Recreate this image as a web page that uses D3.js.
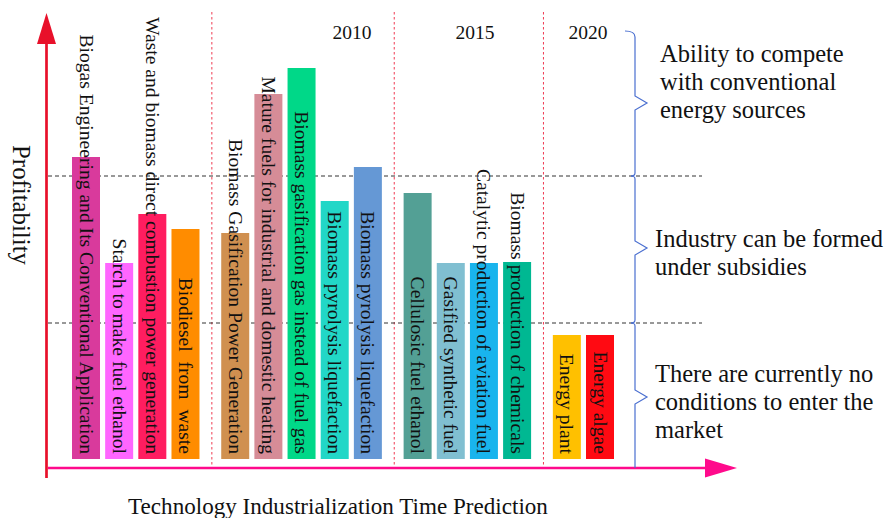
<!DOCTYPE html>
<html>
<head>
<meta charset="utf-8">
<script src="https://cdn.jsdelivr.net/npm/d3@7"></script>
<style>
  html, body { margin: 0; padding: 0; background: #ffffff; }
  svg { display: block; }
  text { font-family: "Liberation Serif", "Times New Roman", serif; fill: #111; white-space: pre; }
</style>
</head>
<body>
<div id="chart"></div>
<script>
// ---------------- data ----------------
const categories = [
  "Biogas Engineering and Its Conventional Application",
  "Starch to make fuel ethanol",
  "Waste and biomass direct combustion power generation",
  "Biodiesel  from  waste",
  "Biomass Gasification Power Generation",
  "Mature fuels for industrial and domestic heating",
  "Biomass gasification gas instead of fuel gas",
  "Biomass pyrolysis liquefaction",
  "Biomass pyrolysis liquefaction",
  "Cellulosic fuel ethanol",
  "Gasified synthetic fuel",
  "Catalytic production of aviation fuel",
  "Biomass production of chemicals",
  "Energy plant",
  "Energy algae"
];
// profitability (arbitrary units)
const profitability = [75.5, 49, 61.25, 57.5, 56.5, 91.25, 97.75, 64.5, 73, 66.5, 49, 49, 49.25, 31, 31];
// period group of each technology (0: now, 1: 2010, 2: 2015, 3: 2020)
const periodGroup = [0, 0, 0, 0, 1, 1, 1, 1, 1, 2, 2, 2, 2, 3, 3];
const yearLabels = ["2010", "2015", "2020"];
// profitability thresholds (dashed lines)
const thresholds = [34, 70.75];
const levelLabels = [
  ["Ability to compete", "with conventional", "energy sources"],
  ["Industry can be formed", "under subsidies"],
  ["There are currently no", "conditions to enter the", "market"]
];
const yTitle = "Profitability";
const xTitle = "Technology Industrialization Time Prediction";

// ---------------- styles ----------------
const barColors = ["#d93a9c", "#ff66ff", "#ff1d60", "#ff8c00", "#d09050", "#d68c97", "#00d888",
                   "#22d7c7", "#6598d5", "#53a095", "#80bfd1", "#19b4ed", "#00b892", "#ffc000", "#ff0a12"];

// ---------------- layout ----------------
const W = 887, H = 518;
const svg = d3.select("#chart").append("svg").attr("width", W).attr("height", H);
svg.append("rect").attr("width", W).attr("height", H).attr("fill", "#fff");

// slot index: bar index plus half a slot per group gap
const slot = categories.map((c, i) => i + 0.5 * periodGroup[i]);
const barW = 28;
const x = d3.scaleLinear().domain([0, 15.5]).range([72, 586]);   // left edge of bar
const y = d3.scaleLinear().domain([0, 100]).range([459, 59]);

const plotLeft = 48, plotRight = 702, axisY = 468;

// dotted red vertical dividers between groups
const dividers = [];
for (let i = 1; i < categories.length; i++) {
  if (periodGroup[i] !== periodGroup[i - 1]) {
    dividers.push(((x(slot[i - 1]) + barW) + x(slot[i])) / 2 + 1.5);
  }
}
svg.selectAll("line.divider").data(dividers).enter().append("line")
  .attr("x1", d => d).attr("x2", d => d).attr("y1", 12).attr("y2", axisY)
  .attr("stroke", "#f03a52").attr("stroke-width", 1).attr("stroke-dasharray", "2.5,2.5");

// dashed threshold lines
svg.selectAll("line.thr").data(thresholds).enter().append("line")
  .attr("x1", plotLeft).attr("x2", plotRight)
  .attr("y1", d => y(d)).attr("y2", d => y(d))
  .attr("stroke", "#333").attr("stroke-width", 1).attr("stroke-dasharray", "4,3");

// bars
svg.selectAll("rect.bar").data(categories).enter().append("rect")
  .attr("x", (d, i) => x(slot[i]))
  .attr("y", (d, i) => y(profitability[i]))
  .attr("width", barW)
  .attr("height", (d, i) => y(0) - y(profitability[i]))
  .attr("fill", (d, i) => barColors[i]);

// bar labels (vertical, reading top to bottom, ending at bar bottom)
svg.selectAll("text.blabel").data(categories).enter().append("text")
  .attr("transform", (d, i) => `translate(${x(slot[i]) + barW / 2},454) rotate(90)`)
  .attr("text-anchor", "end")
  .attr("dominant-baseline", "central")
  .attr("font-size", 19.6)
  .text(d => d);

// year labels
const yearX = [352, 475, 588];
svg.selectAll("text.year").data(yearLabels).enter().append("text")
  .attr("x", (d, i) => yearX[i]).attr("y", 38.5)
  .attr("text-anchor", "middle").attr("font-size", 19.5)
  .text(d => d);

// y axis (red) with arrow
svg.append("line").attr("x1", 46.5).attr("x2", 46.5).attr("y1", 478).attr("y2", 40)
  .attr("stroke", "#e8102a").attr("stroke-width", 2.7);
svg.append("path").attr("d", "M46.5,13 L56,44 L37,44 Z").attr("fill", "#e8102a");

// x axis (pink) with arrow
svg.append("line").attr("x1", 48).attr("x2", 708).attr("y1", axisY).attr("y2", axisY)
  .attr("stroke", "#ff0a8c").attr("stroke-width", 2.4);
svg.append("path").attr("d", `M737,${axisY} L705,${axisY - 9.5} L705,${axisY + 9.5} Z`).attr("fill", "#ff0a8c");

// axis titles
svg.append("text").attr("transform", "translate(21,205) rotate(90)")
  .attr("text-anchor", "middle").attr("dominant-baseline", "central")
  .attr("font-size", 24.8).text(yTitle);
svg.append("text").attr("x", 338).attr("y", 514).attr("text-anchor", "middle")
  .attr("font-size", 23.1).text(xTitle);

// braces
const bx = 635;
const levels = [[31, y(thresholds[1])], [y(thresholds[1]), y(thresholds[0])], [y(thresholds[0]), axisY]];
const tipY = [103, 248, 397];
function bracePath(top, bottom, tip, first, last) {
  let p = "";
  if (first) p += `M${bx - 10},${top} Q${bx},${top} ${bx},${top + 6}`;
  else p += `M${bx - 4},${top} Q${bx},${top} ${bx},${top + 3}`;
  p += ` L${bx},${tip - 7} L${bx + 12},${tip} L${bx},${tip + 7}`;
  if (last) p += ` L${bx},${bottom}`;
  else p += ` L${bx},${bottom - 3} Q${bx},${bottom} ${bx - 4},${bottom}`;
  return p;
}
levels.forEach((lv, i) => {
  svg.append("path").attr("d", bracePath(lv[0], lv[1], tipY[i], i === 0, i === levels.length - 1))
    .attr("fill", "none").attr("stroke", "#4a6fd0").attr("stroke-width", 1.2);
});

// level labels
const lblPos = [[660, 62], [655, 247], [655, 382]];
levelLabels.forEach((lines, i) => {
  const t = svg.append("text").attr("x", lblPos[i][0]).attr("y", lblPos[i][1]).attr("font-size", 24.5);
  lines.forEach((ln, j) => {
    t.append("tspan").attr("x", lblPos[i][0]).attr("dy", j === 0 ? 0 : 28).text(ln);
  });
});
</script>
</body>
</html>
